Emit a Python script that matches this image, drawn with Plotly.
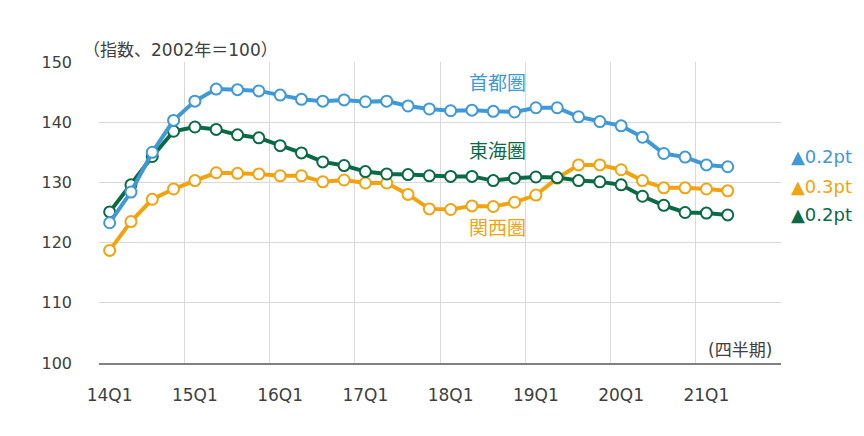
import plotly.graph_objects as go

quarters = [f"{y}Q{q}" for y in range(14, 22) for q in range(1, 5)]
tick_labels = ["14Q1", "15Q1", "16Q1", "17Q1", "18Q1", "19Q1", "20Q1", "21Q1"]

shutoken = [123.3, 128.4, 135.0, 140.3, 143.5, 145.5, 145.4, 145.2, 144.5, 143.8,
            143.5, 143.7, 143.4, 143.5, 142.7, 142.2, 141.9, 142.0, 141.8, 141.7,
            142.4, 142.4, 140.9, 140.1, 139.4, 137.5, 134.8, 134.2, 132.9, 132.6]
tokai = [125.1, 129.6, 134.3, 138.5, 139.2, 138.8, 137.9, 137.4, 136.1, 134.9,
         133.4, 132.8, 131.8, 131.4, 131.3, 131.1, 131.0, 131.0, 130.3, 130.7,
         130.9, 130.8, 130.3, 130.1, 129.6, 127.7, 126.2, 125.0, 124.9, 124.6]
kansai = [118.7, 123.5, 127.2, 128.9, 130.3, 131.6, 131.5, 131.4, 131.1, 131.1,
          130.1, 130.4, 129.9, 129.9, 128.0, 125.6, 125.5, 126.1, 126.0, 126.7,
          127.9, 130.7, 132.9, 132.9, 132.1, 130.3, 129.1, 129.1, 128.9, 128.6]

series_names = ["首都圏", "東海圏", "関西圏"]
changes = ["▲0.2pt", "▲0.3pt", "▲0.2pt"]

BLUE = "#3f99d7"
ORANGE = "#f2a30f"
GREEN = "#0a6a45"
FONT = "DejaVu Sans, Noto Sans CJK JP"
JFONT = "Noto Sans CJK JP"
TXT = "#404040"

fig = go.Figure()
for name, vals, col in [(series_names[2], kansai, ORANGE), (series_names[1], tokai, GREEN),
                        (series_names[0], shutoken, BLUE)]:
    fig.add_trace(go.Scatter(
        x=list(range(len(vals))), y=vals, mode="lines+markers", name=name,
        line=dict(color=col, width=4),
        marker=dict(symbol="circle", size=11, color="white", line=dict(color=col, width=2)),
        showlegend=False,
    ))

tickpos = [quarters.index(t) for t in tick_labels]

fig.update_layout(
    width=864, height=436,
    margin=dict(l=91, r=91, t=54, b=81),
    paper_bgcolor="white", plot_bgcolor="white",
    font=dict(family=FONT, size=16, color=TXT),
    xaxis=dict(
        range=[-0.5, len(quarters) - 0.5],
        tickmode="array", tickvals=tickpos, ticktext=tick_labels,
        showgrid=False, zeroline=False,
        showline=True, linecolor="#808080", linewidth=2,
        ticks="", ticklabelstandoff=16,
        tickfont=dict(size=17, color=TXT),
        minor=dict(tick0=-0.5, dtick=4, showgrid=True, gridcolor="#d9d9d9", gridwidth=1),
    ),
    yaxis=dict(
        range=[100, 150], tickmode="array", tickvals=[100, 110, 120, 130, 140, 150],
        showgrid=True, gridcolor="#d9d9d9", gridwidth=1, zeroline=False,
        ticks="", ticklabelstandoff=26,
        tickfont=dict(size=16, color=TXT),
    ),
)

fig.add_annotation(x=-18 / 682, y=1.0, xref="x domain", yref="y domain",
                   text="（指数、2002年＝100）", showarrow=False, xanchor="left", yanchor="bottom",
                   yshift=0, font=dict(family=FONT, size=17, color=TXT))
fig.add_annotation(x=0.99, y=100, xref="x domain", yref="y",
                   text="(四半期)", showarrow=False, xanchor="right", yanchor="bottom", yshift=1,
                   font=dict(family=FONT, size=17, color=TXT))

label_pos = [(18.2, 146.7, BLUE), (18.2, 135.4, GREEN), (18.2, 122.6, ORANGE)]
for (xi, yv, col), name in zip(label_pos, series_names):
    fig.add_annotation(x=xi, y=yv, xref="x", yref="y", text=name, showarrow=False,
                       font=dict(family=JFONT, size=19, color=col))

for txt, yv, col in zip(changes, [134.25, 129.4, 124.6], [BLUE, ORANGE, GREEN]):
    fig.add_annotation(x=1.012, y=yv, xref="x domain", yref="y", text=txt, showarrow=False,
                       xanchor="left", font=dict(family=FONT, size=18, color=col))

fig.write_html("out.html")
